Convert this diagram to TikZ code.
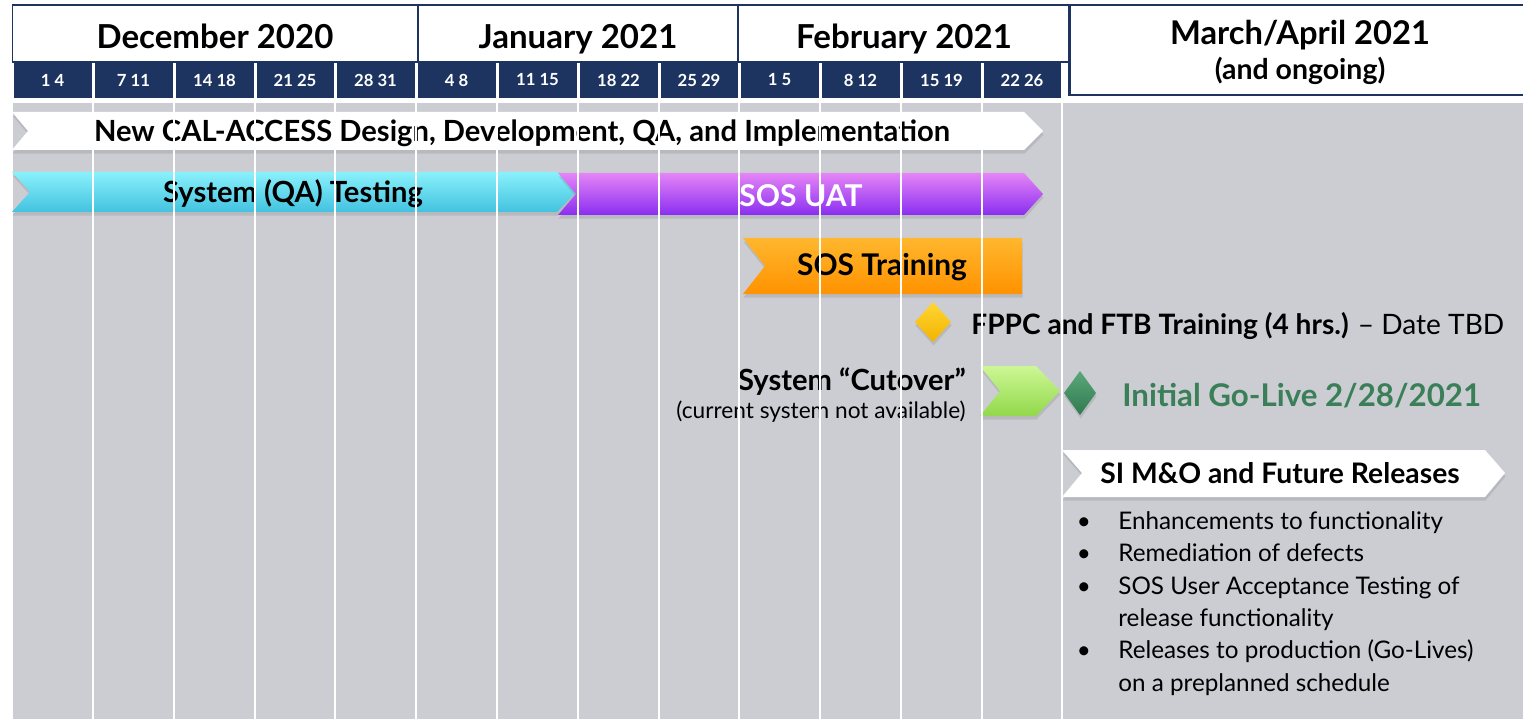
\documentclass[tikz,border=0pt]{standalone}
\usepackage{fontspec}
\setmainfont{Lato}
\usepackage{xcolor}
\usepackage{tikz}
\usetikzlibrary{shadows}
\definecolor{navy}{HTML}{1D3461}
\definecolor{panel}{HTML}{CBCDD3}
\definecolor{golivegreen}{HTML}{3B7F58}
\definecolor{cyantop}{HTML}{8AF1FB}
\definecolor{cyanmid}{HTML}{62D8EE}
\definecolor{cyanbot}{HTML}{42C2E0}
\definecolor{purpletop}{HTML}{E585F6}
\definecolor{purplemid}{HTML}{B04FF3}
\definecolor{purplebot}{HTML}{8A2EF0}
\definecolor{orangetop}{HTML}{FFB72E}
\definecolor{orangebot}{HTML}{FF9200}
\definecolor{yellowtop}{HTML}{FFD633}
\definecolor{yellowbot}{HTML}{F2B300}
\definecolor{limetop}{HTML}{CDF795}
\definecolor{limebot}{HTML}{92D84A}
\definecolor{gemtop}{HTML}{5CA77A}
\definecolor{gembot}{HTML}{2F7A4E}
\tikzset{every picture/.style={x=0.02cm,y=-0.02cm},
  monthbox/.style={draw=navy, line width=0.6pt, fill=white, minimum height=1.14cm, inner sep=0pt,
    text height=17.5pt, text depth=0pt, font=\bfseries\fontsize{18.8}{21}\selectfont},
  monthtext/.style={inner sep=0pt, font=\bfseries\fontsize{18.6}{21}\selectfont},
  weekbox/.style={fill=navy, text=white, minimum height=0.72cm, inner sep=0pt, font=\bfseries\fontsize{9.5}{11}\selectfont},
  bartext/.style={inner sep=0pt, font=\bfseries\fontsize{16.6}{19}\selectfont},
  notetext/.style={inner sep=0pt, font=\fontsize{12.9}{15}\selectfont},
  listtext/.style={inner sep=0pt, align=left, font=\fontsize{13.8}{18.45}\selectfont},
  barshadow/.style={drop shadow={shadow xshift=0.3pt, shadow yshift=-2pt, opacity=0.25}},
  gridline/.style={white, line width=1.2pt}}

\begin{document}
\begin{tikzpicture}
        \useasboundingbox (0,0) rectangle (1523,719);
        \fill[white] (0,0) rectangle (1523,719);
        \fill[panel] (13,103) rectangle (1523,719);

        \node[monthbox, minimum width=8.12cm] (dec) at (215,33.5) {December 2020};
        \node[monthbox, minimum width=6.4cm] (jan) at (578,33.5) {January 2021};
        \node[monthbox, minimum width=6.64cm] (feb) at (904,33.5) {February 2021};
        \node[draw=navy, line width=1.6pt, fill=white, minimum width=9.3cm, minimum height=1.8cm] (mar) at (1302,50) {};
        \node[monthtext] (martitle) at (1300,35) {March/April 2021};
        \node[monthtext, font=\bfseries\fontsize{16.2}{19}\selectfont] (marnote) at (1300,71) {(and ongoing)};

        \foreach \a/\b/\days [count=\i] in {
          12/93/1 4, 93/174/7 11, 174/255/14 18, 255/335/21 25, 335/416/28 31,
          416/497/4 8, 497/578/11 15, 578/659/18 22, 659/739/25 29,
          739/820/1 5, 820/901/8 12, 901/982/15 19, 982/1062/22 26}
        \node[weekbox, minimum width={(\b-\a-3)*0.02cm}] (w\i) at ({(\a+\b)/2},80) {\days};

        \fill[white, barshadow] (12,112) -- (1024,112) -- (1043,131) -- (1024,150) -- (12,150) -- (28,131) -- cycle;
        \shade[barshadow, top color=cyantop, middle color=cyanmid, bottom color=cyanbot]
          (12,172) -- (557,172) -- (576,192) -- (557,212) -- (12,212) -- (30,192) -- cycle;
        \shade[barshadow, top color=purpletop, middle color=purplemid, bottom color=purplebot]
          (558,173) -- (1024,173) -- (1043,194) -- (1024,215) -- (558,215) -- (576,194) -- cycle;
        \shade[barshadow, top color=orangetop, bottom color=orangebot]
          (743,238) -- (1022,238) -- (1022,294) -- (743,294) -- (765,266) -- cycle;
        \shade[barshadow, top color=yellowtop, bottom color=yellowbot]
          (933,302) -- (951,322) -- (933,342) -- (915,322) -- cycle;
        \shade[barshadow, top color=limetop, bottom color=limebot]
          (980,366) -- (1036,366) -- (1060,391) -- (1036,416) -- (980,416) -- (1000,391) -- cycle;
        \shade[barshadow, top color=gemtop, bottom color=gembot]
          (1080,371) -- (1096,393) -- (1080,415) -- (1064,393) -- cycle;
        \fill[white, barshadow] (1062,450) -- (1485,450) -- (1505,473) -- (1485,497) -- (1062,497) -- (1082,473) -- cycle;

        \node[bartext] (design) at (522,133) {New CAL-ACCESS Design, Development, QA, and Implementation};
        \node[bartext] (qa) at (293,194) {System (QA) Testing};
        \node[bartext, text=white, font=\bfseries\fontsize{17.1}{19}\selectfont] (uat) at (801,196) {SOS UAT};
        \node[bartext, font=\bfseries\fontsize{17}{19}\selectfont] (training) at (882,267) {SOS Training};
        \node[bartext, anchor=west, font=\bfseries\fontsize{16}{19}\selectfont] (fppc) at (971,326) {FPPC and FTB Training (4 hrs.) {\mdseries – Date TBD}};
        \node[bartext, anchor=east] (cutover) at (966,382) {System “Cutover”};
        \node[notetext, anchor=east] (cutnote) at (966,412) {(current system not available)};
        \node[bartext, anchor=west, text=golivegreen, font=\bfseries\fontsize{17.8}{20}\selectfont] (golive) at (1122,396) {Initial Go-Live 2/28/2021};
        \node[bartext, font=\bfseries\fontsize{16.1}{19}\selectfont] (simo) at (1280,473) {SI M\&O and Future Releases};
        \node[listtext, anchor=north west] (items) at (1118,511)
          {\llap{\textbullet\hspace{0.55cm}}Enhancements to functionality\\
           \llap{\textbullet\hspace{0.55cm}}Remediation of defects\\
           \llap{\textbullet\hspace{0.55cm}}SOS User Acceptance Testing of\\
           release functionality\\
           \llap{\textbullet\hspace{0.55cm}}Releases to production (Go-Lives)\\
           on a preplanned schedule};

        \foreach \x in {93,174,255,335,416,497,578,659,739,820,901,982,1062}
        \draw[gridline] (\x,103) -- (\x,719);
      \end{tikzpicture}
\end{document}
